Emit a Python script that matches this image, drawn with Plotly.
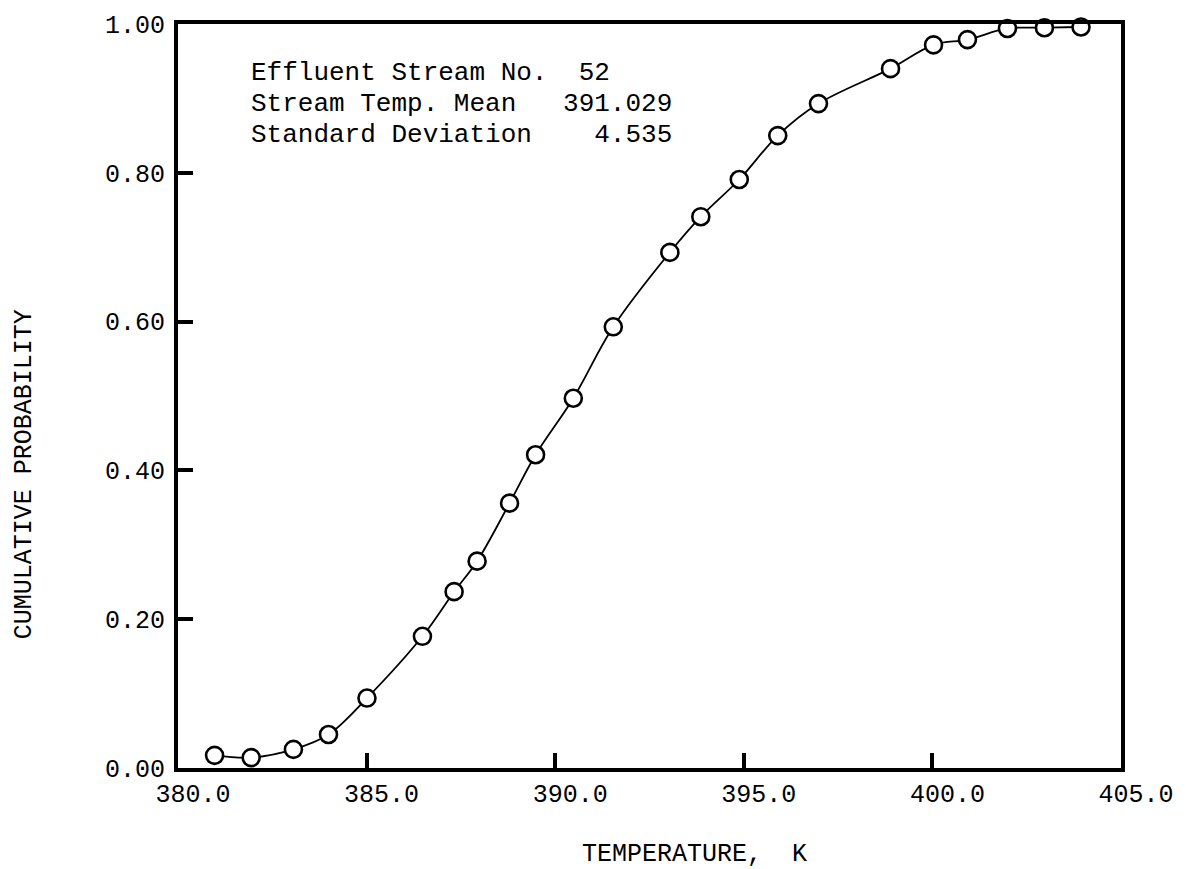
import plotly.graph_objects as go

# Data
temperature = [380.97, 381.94, 383.06, 383.99, 385.01, 386.48, 387.32, 387.93,
               388.79, 389.48, 390.48, 391.54, 393.04, 393.86, 394.88, 395.90,
               396.98, 398.89, 400.03, 400.93, 401.99, 402.97, 403.94]
cum_prob = [0.017, 0.014, 0.025, 0.045, 0.094, 0.177, 0.237, 0.278,
            0.356, 0.421, 0.497, 0.593, 0.693, 0.741, 0.791, 0.850,
            0.893, 0.940, 0.972, 0.979, 0.994, 0.995, 0.996]

x_ticks = [380, 385, 390, 395, 400, 405]
y_ticks = [0.0, 0.2, 0.4, 0.6, 0.8, 1.0]

stream_no = 52
temp_mean = 391.029
std_dev = 4.535

FONT = "Liberation Mono"
NB = "\u00a0"

fig = go.Figure()
fig.add_trace(go.Scatter(
    x=temperature, y=cum_prob, mode="lines+markers",
    line=dict(color="black", width=1.8, shape="spline", smoothing=1.0),
    marker=dict(symbol="circle", size=17, color="white",
                line=dict(color="black", width=2.6)),
    cliponaxis=False, showlegend=False,
))

axis_common = dict(
    showgrid=False, zeroline=False, showline=True, linecolor="black",
    linewidth=4, mirror=True, ticks="inside", tickcolor="black",
    tickwidth=4, ticklen=15,
    tickfont=dict(family=FONT, size=25, color="black"),
)
fig.update_xaxes(range=[380, 405], tickvals=x_ticks, tickformat=".1f",
                 ticklabelshift=15, ticklabelstandoff=0, **axis_common)
fig.update_yaxes(range=[0, 1], tickvals=y_ticks, tickformat=".2f",
                 ticklabelstandoff=4, **axis_common)

lines = [
    f"Effluent Stream No.{NB*2}{stream_no}",
    f"Stream Temp. Mean{NB*3}{temp_mean:.3f}",
    f"Standard Deviation{NB*4}{std_dev:.3f}",
]
ys = [67, 99, 130]
for txt, yp in zip(lines, ys):
    fig.add_annotation(
        text=txt, xref="paper", yref="paper",
        x=(249 - 178) / (1127 - 178), y=(768 - yp) / (768 - 18),
        xanchor="left", yanchor="middle", showarrow=False,
        font=dict(family=FONT, size=26, color="black"),
    )

fig.add_annotation(
    text=f"TEMPERATURE,{NB*2}K", xref="paper", yref="paper",
    x=(698 - 178) / (1127 - 178), y=(768 - 855) / (768 - 18),
    xanchor="center", yanchor="middle", showarrow=False,
    font=dict(family=FONT, size=25, color="black"),
)
fig.add_annotation(
    text="CUMULATIVE PROBABILITY", xref="paper", yref="paper",
    x=(23 - 178) / (1127 - 178), y=(768 - 472) / (768 - 18),
    xanchor="center", yanchor="middle", showarrow=False, textangle=-90,
    font=dict(family=FONT, size=25, color="black"),
)

fig.update_layout(
    width=1186, height=869,
    margin=dict(l=178, r=59, t=18, b=101),
    paper_bgcolor="white", plot_bgcolor="white",
)

fig.write_html("out.html")
